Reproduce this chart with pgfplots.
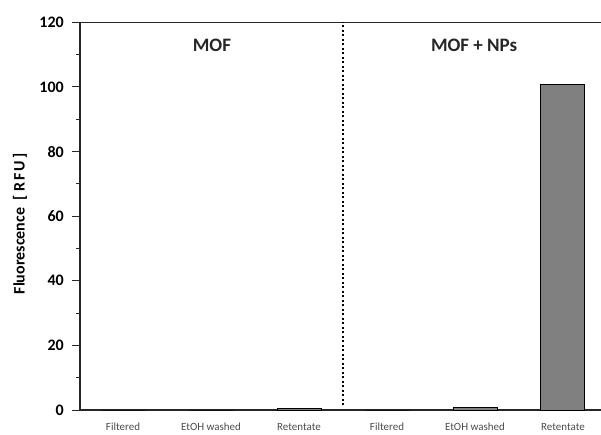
\documentclass[border=0pt]{standalone}
\usepackage{fontspec}
\setmainfont{Carlito}
\setsansfont{Carlito}
\usepackage{pgfplots}
\pgfplotsset{compat=1.18}
\begin{document}
\begin{tikzpicture}
\begin{axis}[
  scale only axis,
  width=521pt, height=387.6pt,
  xmin=-0.489, xmax=5.432, ymin=0, ymax=120,
  axis x line=box, axis y line=left,
  axis line style={-, line width=1.2pt, black!85},
  ytick={0,20,...,120}, minor y tick num=1,
  tick align=outside, major tick length=8pt, minor tick length=4pt,
  every tick/.style={line width=1pt, black!85},
  xtick={0,1,2,3,4,5},
  xticklabels={Filtered, EtOH washed, Retentate, Filtered, EtOH washed, Retentate},
  xtick style={draw=none},
  xticklabel style={anchor=base, inner sep=0pt, yshift=-12.5pt, font=\fontsize{11}{12}\selectfont, text=black!70},
  yticklabel style={anchor=east, inner sep=0pt, xshift=-8pt, font=\bfseries\fontsize{16}{18}\selectfont},
  /pgf/number format/assume math mode=true,
  ylabel={Fluorescence\hspace{7pt}[\hspace{4pt}R\hspace{2pt}F\hspace{2pt}U\hspace{2pt}]},
  ylabel style={at={([xshift=-60pt]axis description cs:0,0.48)}, anchor=center, font=\bfseries\fontsize{16}{18}\selectfont},
  ybar, bar width=44pt,
]
\addplot[fill=gray, draw=black, line width=1pt] coordinates {(0,0) (1,0) (2,0.6) (3,0) (4,0.9) (5,100.7)};
\draw[line width=1.4pt, dash pattern=on 2pt off 2.5pt, black] (axis cs:2.5,1.5) -- (axis cs:2.5,120);
\node[font=\bfseries\fontsize{19}{21}\selectfont, text=black!85] at (axis cs:1.01,113) {MOF};
\node[font=\bfseries\fontsize{19}{21}\selectfont, text=black!85] at (axis cs:3.99,113) {MOF + NPs};
\coordinate (bl) at (rel axis cs:0,0);
\coordinate (tr) at (rel axis cs:1,1);
\end{axis}
\pgfresetboundingbox
\path[use as bounding box] ([shift={(-80pt,-24pt)}]bl) rectangle ([shift={(0pt,22.4pt)}]tr);
\end{tikzpicture}
\end{document}
